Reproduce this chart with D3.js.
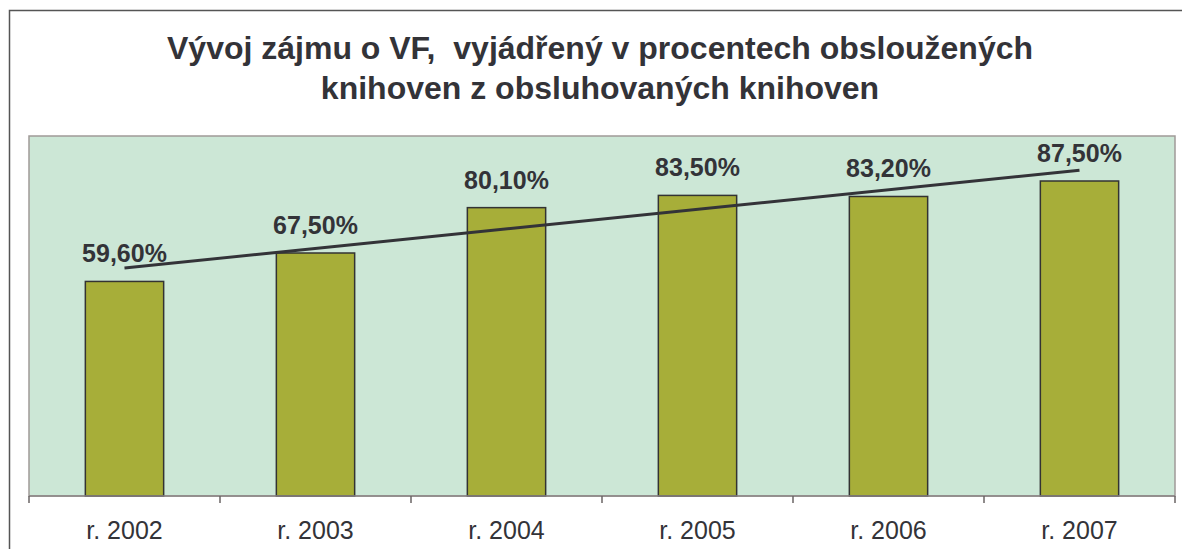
<!DOCTYPE html>
<html>
<head>
<meta charset="utf-8">
<script src="https://cdn.jsdelivr.net/npm/d3@7"></script>
<style>
  body { margin: 0; background: #fff; }
  svg { display: block; font-family: "Liberation Sans", Arial, sans-serif; }
</style>
</head>
<body>
<div id="chart"></div>
<script>
// data
const years = ['r. 2002', 'r. 2003', 'r. 2004', 'r. 2005', 'r. 2006', 'r. 2007'];
const values = [59.6, 67.5, 80.1, 83.5, 83.2, 87.5];
const titleLines = ['Vývoj zájmu o VF,  vyjádřený v procentech obsloužených', 'knihoven z obsluhovaných knihoven'];

const W = 1182, H = 549;
const margin = {top: 136, right: 7, bottom: 53, left: 29};
const width = W - margin.left - margin.right;
const height = H - margin.top - margin.bottom;
const textColor = '#333338';

const svg = d3.select('#chart').append('svg')
  .attr('width', W)
  .attr('height', H);

// outer frame (runs off the right and bottom)
svg.append('rect')
  .attr('x', 9.5).attr('y', 10.5)
  .attr('width', W).attr('height', H)
  .attr('fill', 'none')
  .attr('stroke', '#555')
  .attr('stroke-width', 1.5);

// title
svg.append('text')
  .attr('x', 600)
  .attr('y', 59)
  .attr('text-anchor', 'middle')
  .attr('font-size', 32)
  .attr('font-weight', 'bold')
  .attr('fill', textColor)
  .selectAll('tspan')
  .data(titleLines)
  .join('tspan')
  .attr('x', 600)
  .attr('dy', (d, i) => i === 0 ? 0 : 40)
  .style('white-space', 'pre')
  .text(d => d);

const g = svg.append('g')
  .attr('transform', `translate(${margin.left},${margin.top})`);

const x = d3.scaleBand()
  .domain(years)
  .range([0, width])
  .paddingInner(0.59)
  .paddingOuter(0.295);

const y = d3.scaleLinear()
  .domain([0, 100])
  .range([height, 0]);

// plot area
g.append('rect')
  .attr('width', width)
  .attr('height', height)
  .attr('fill', '#cce7d6')
  .attr('stroke', '#a09a98')
  .attr('stroke-width', 1.5);

// bars
g.selectAll('.bar')
  .data(values)
  .join('rect')
  .attr('class', 'bar')
  .attr('x', (d, i) => x(years[i]))
  .attr('y', d => y(d))
  .attr('width', x.bandwidth())
  .attr('height', d => height - y(d))
  .attr('fill', '#a7ae39')
  .attr('stroke', '#333')
  .attr('stroke-width', 1.5);

// linear trend line (least squares over the six values)
const n = values.length;
const mx = d3.mean(values, (d, i) => i);
const my = d3.mean(values);
const slope = d3.sum(values, (d, i) => (i - mx) * (d - my)) / d3.sum(values, (d, i) => (i - mx) * (i - mx));
const icpt = my - slope * mx;
const cx = i => x(years[i]) + x.bandwidth() / 2;

g.append('line')
  .attr('x1', cx(0))
  .attr('y1', y(icpt))
  .attr('x2', cx(n - 1))
  .attr('y2', y(icpt + slope * (n - 1)))
  .attr('stroke', '#333338')
  .attr('stroke-width', 3);

// value labels
g.selectAll('.lbl')
  .data(values)
  .join('text')
  .attr('class', 'lbl')
  .attr('x', (d, i) => cx(i))
  .attr('y', d => y(d) - 19)
  .attr('text-anchor', 'middle')
  .attr('font-size', 25)
  .attr('font-weight', 'bold')
  .attr('fill', textColor)
  .text(d => d.toFixed(2).replace('.', ',') + '%');

// x axis
const xAxis = g.append('g')
  .attr('transform', `translate(0,${height})`);

xAxis.append('line')
  .attr('x1', 0).attr('x2', width)
  .attr('stroke', '#8a8585')
  .attr('stroke-width', 1.5);

const tickPos = years.map((d, i) => i * x.step()).concat([width]);

xAxis.selectAll('.tick')
  .data(tickPos)
  .join('line')
  .attr('class', 'tick')
  .attr('x1', d => d).attr('x2', d => d)
  .attr('y1', 0).attr('y2', 7)
  .attr('stroke', '#6a6565')
  .attr('stroke-width', 1.5);

xAxis.selectAll('.xlbl')
  .data(years)
  .join('text')
  .attr('class', 'xlbl')
  .attr('x', d => x(d) + x.bandwidth() / 2)
  .attr('y', 43)
  .attr('text-anchor', 'middle')
  .attr('font-size', 25)
  .attr('fill', textColor)
  .text(d => d);
</script>
</body>
</html>
